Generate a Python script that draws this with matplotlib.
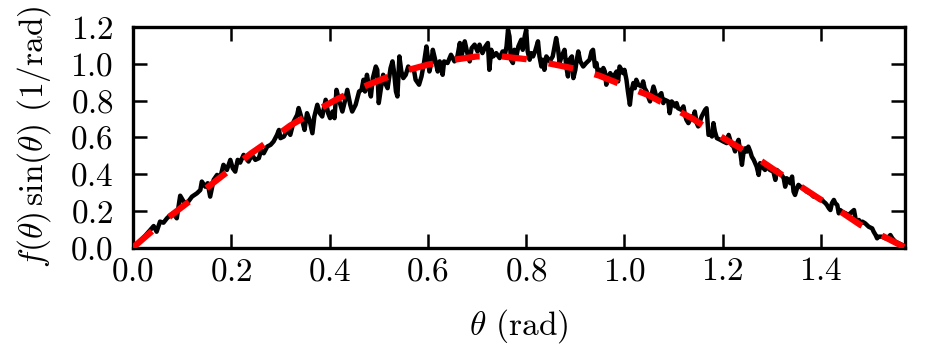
import numpy as np
import matplotlib
matplotlib.use("Agg")
import matplotlib.pyplot as plt

BLACK_THETA = [
    0.000, 0.012, 0.025, 0.035, 0.042, 0.048, 0.055, 0.062, 0.069, 0.076,
    0.082, 0.089, 0.096, 0.103, 0.110, 0.120, 0.130, 0.137, 0.140, 0.147,
    0.152, 0.157, 0.164, 0.171, 0.178, 0.184, 0.191, 0.198, 0.203, 0.208,
    0.213, 0.218, 0.225,
    0.235, 0.242, 0.249, 0.256, 0.261, 0.266, 0.273, 0.280, 0.286, 0.293,
    0.297, 0.300, 0.307, 0.314, 0.320, 0.327, 0.334, 0.337, 0.344, 0.349,
    0.354, 0.359, 0.365, 0.369, 0.375, 0.380, 0.385, 0.392, 0.397, 0.401,
    0.406, 0.410, 0.414, 0.419, 0.426, 0.431, 0.436, 0.442, 0.446, 0.453,
    0.460,
    0.465, 0.469, 0.472, 0.476, 0.480, 0.484, 0.488, 0.494, 0.497, 0.500,
    0.505, 0.509, 0.513, 0.518, 0.524, 0.528, 0.531, 0.535, 0.538, 0.542,
    0.546, 0.550, 0.555, 0.560, 0.565, 0.571, 0.575, 0.582, 0.587, 0.592,
    0.597, 0.600, 0.603, 0.607, 0.610, 0.614, 0.620, 0.624, 0.630, 0.633,
    0.640, 0.647, 0.654, 0.660, 0.665, 0.668, 0.671, 0.675, 0.681, 0.685,
    0.689, 0.695,
    0.701, 0.705, 0.711, 0.717, 0.722, 0.725, 0.729, 0.733, 0.739, 0.746,
    0.752, 0.756, 0.760, 0.763, 0.766, 0.769, 0.773, 0.776, 0.780, 0.784,
    0.790, 0.793, 0.797, 0.800, 0.803, 0.807, 0.810, 0.814, 0.818, 0.824,
    0.827, 0.831, 0.834, 0.837, 0.841, 0.848, 0.854, 0.861, 0.865, 0.868,
    0.872, 0.878, 0.882, 0.885, 0.888, 0.893, 0.896, 0.900, 0.903, 0.906,
    0.910, 0.916, 0.922, 0.929,
    0.933, 0.936, 0.940, 0.943, 0.946, 0.950, 0.953, 0.957, 0.960, 0.963,
    0.967, 0.971, 0.977, 0.980, 0.984, 0.987, 0.990, 0.994, 0.997, 1.000,
    1.004, 1.007, 1.011, 1.014, 1.018, 1.021, 1.024, 1.028, 1.035, 1.038,
    1.041, 1.045, 1.048, 1.052, 1.055, 1.059, 1.062, 1.065, 1.069, 1.075,
    1.079, 1.082, 1.089, 1.092, 1.096, 1.099, 1.103, 1.106, 1.109, 1.116,
    1.120, 1.123, 1.126, 1.130, 1.137, 1.140, 1.143, 1.147, 1.150, 1.157,
    1.164,
    1.167, 1.171, 1.174, 1.178, 1.181, 1.184, 1.188, 1.195, 1.201, 1.208,
    1.212, 1.215, 1.218, 1.222, 1.225, 1.229, 1.232, 1.235, 1.239, 1.242,
    1.246, 1.249, 1.252, 1.256, 1.259, 1.263, 1.266, 1.269, 1.273, 1.276,
    1.283, 1.286, 1.290, 1.296, 1.303, 1.307, 1.310, 1.317, 1.320, 1.324,
    1.327, 1.330, 1.334, 1.337, 1.341, 1.344, 1.347, 1.351, 1.354, 1.358,
    1.364, 1.371, 1.378, 1.385, 1.391, 1.398,
    1.402, 1.405, 1.409, 1.412, 1.416, 1.419, 1.422, 1.426, 1.429, 1.433,
    1.436, 1.439, 1.443, 1.450, 1.456, 1.463, 1.467, 1.470, 1.473, 1.477,
    1.480, 1.484, 1.490, 1.497, 1.504, 1.507, 1.511, 1.514, 1.517, 1.524,
    1.531, 1.538, 1.541, 1.545, 1.551, 1.558, 1.565, 1.571,
]
BLACK_F = [
    0.000, 0.030, 0.065, 0.095, 0.117, 0.086, 0.141, 0.135, 0.159, 0.177,
    0.186, 0.159, 0.282, 0.250, 0.241, 0.277, 0.295, 0.313, 0.359, 0.331,
    0.350, 0.277, 0.368, 0.395, 0.386, 0.450, 0.422, 0.477, 0.431, 0.413,
    0.477, 0.462, 0.504,
    0.468, 0.504, 0.477, 0.486, 0.531, 0.513, 0.549, 0.559, 0.577, 0.613,
    0.640, 0.595, 0.604, 0.640, 0.613, 0.686, 0.722, 0.759, 0.695, 0.640,
    0.731, 0.695, 0.622, 0.713, 0.777, 0.731, 0.713, 0.804, 0.731, 0.704,
    0.740, 0.704, 0.858, 0.804, 0.740, 0.795, 0.858, 0.777, 0.740, 0.777,
    0.849,
    0.858, 0.913, 0.849, 0.940, 0.876, 0.822, 0.922, 0.985, 0.967, 0.786,
    0.876, 0.940, 0.895, 0.867, 0.976, 1.013, 0.958, 0.849, 0.822, 1.040,
    0.958, 0.922, 0.940, 0.985, 0.967, 0.976, 0.913, 0.886, 0.931, 1.004,
    1.094, 1.031, 0.958, 1.004, 1.076, 1.031, 0.958, 1.013, 0.940, 1.013,
    1.004, 1.049, 1.013, 1.040, 1.113, 1.031, 1.076, 1.122, 1.049, 1.013,
    1.085, 1.104,
    1.067, 1.104, 1.058, 1.094, 1.113, 0.967, 1.076, 1.040, 1.058, 1.031,
    1.067, 1.040, 1.094, 1.185, 1.149, 1.022, 1.004, 1.076, 1.040, 1.094,
    1.131, 1.076, 1.149, 1.185, 1.067, 1.022, 1.058, 1.040, 1.067, 1.122,
    1.040, 0.985, 1.022, 0.967, 1.040, 1.013, 1.040, 1.140, 1.076, 1.004,
    1.040, 1.076, 0.977, 0.931, 1.022, 1.040, 0.922, 0.967, 1.022, 1.067,
    1.013, 0.985, 1.004, 1.022,
    1.067, 1.076, 0.985, 1.004, 0.944, 0.967, 0.940, 0.977, 0.958, 0.886,
    0.931, 0.949, 0.922, 0.940, 0.958, 0.904, 0.985, 0.967, 0.949, 0.967,
    0.913, 0.849, 0.777, 0.849, 0.895, 0.867, 0.913, 0.886, 0.876, 0.904,
    0.867, 0.849, 0.822, 0.795, 0.831, 0.876, 0.849, 0.813, 0.822, 0.840,
    0.786, 0.804, 0.795, 0.731, 0.795, 0.786, 0.768, 0.786, 0.758, 0.749,
    0.768, 0.722, 0.695, 0.677, 0.713, 0.704, 0.740, 0.677, 0.659, 0.713,
    0.749,
    0.758, 0.613, 0.622, 0.604, 0.677, 0.631, 0.595, 0.586, 0.577, 0.568,
    0.613, 0.586, 0.559, 0.549, 0.523, 0.568, 0.586, 0.531, 0.450, 0.513,
    0.540, 0.522, 0.549, 0.522, 0.495, 0.477, 0.459, 0.440, 0.395, 0.459,
    0.431, 0.422, 0.440, 0.422, 0.413, 0.368, 0.422, 0.404, 0.395, 0.377,
    0.331, 0.377, 0.368, 0.350, 0.386, 0.304, 0.286, 0.322, 0.341, 0.331,
    0.322, 0.304, 0.295, 0.277, 0.277, 0.259,
    0.259, 0.250, 0.241, 0.231, 0.213, 0.204, 0.241, 0.259, 0.241, 0.231,
    0.186, 0.204, 0.195, 0.186, 0.177, 0.195, 0.204, 0.159, 0.141, 0.150,
    0.131, 0.141, 0.131, 0.113, 0.104, 0.086, 0.068, 0.050, 0.059, 0.059,
    0.050, 0.059, 0.068, 0.050, 0.032, 0.023, 0.014, 0.000,
]

# smooth model curve (red, dashed)
RED_THETA = [0.000, 0.040, 0.080, 0.120, 0.160, 0.200, 0.240, 0.280, 0.320,
             0.365, 0.410, 0.453, 0.504, 0.548, 0.600, 0.648, 0.700, 0.750,
             0.800, 0.850, 0.905, 0.949, 1.000, 1.048, 1.092, 1.137, 1.179,
             1.224, 1.265, 1.310, 1.354, 1.395, 1.440, 1.480, 1.528, 1.5708]
RED_F = [0.000, 0.092, 0.180, 0.262, 0.345, 0.428, 0.512, 0.586, 0.664,
         0.733, 0.800, 0.858, 0.913, 0.958, 0.995, 1.020, 1.040, 1.040,
         1.025, 1.000, 0.970, 0.935, 0.880, 0.830, 0.767, 0.704, 0.631,
         0.559, 0.495, 0.413, 0.340, 0.268, 0.195, 0.123, 0.059, 0.000]

plt.rcParams.update({
    "font.family": "serif",
    "font.serif": ["cmr10", "DejaVu Serif"],
    "mathtext.fontset": "cm",
    "axes.formatter.use_mathtext": True,
    "font.size": 24,
    "axes.linewidth": 2.4,
    "xtick.direction": "in", "ytick.direction": "in",
    "xtick.top": True, "ytick.right": True,
    "xtick.major.size": 10, "ytick.major.size": 10,
    "xtick.major.width": 1.8, "ytick.major.width": 1.8,
    "lines.scale_dashes": False,
})

fig = plt.figure(figsize=(9.44, 3.54), dpi=100)
ax = fig.add_axes([0.1409, 0.3008, 0.8178, 0.6229])

ax.plot(BLACK_THETA, BLACK_F, color="black", lw=3.2, zorder=2)
ax.plot(RED_THETA, RED_F, color="red", lw=4.5, dashes=(18, 16), zorder=3)

ax.set_xlim(0, np.pi / 2)
ax.set_ylim(0, 1.2)
ax.set_xticks(np.arange(0, 1.5, 0.2))
ax.set_yticks(np.arange(0, 1.21, 0.2))
ax.tick_params(axis="x", pad=7)
ax.tick_params(axis="y", pad=14)
ax.set_xlabel(r"$\theta$ (rad)", labelpad=15)
ax.set_ylabel(r"$f(\theta)\,\sin(\theta)$ (1/rad)", labelpad=12)

fig.savefig("out.png", dpi=100)
